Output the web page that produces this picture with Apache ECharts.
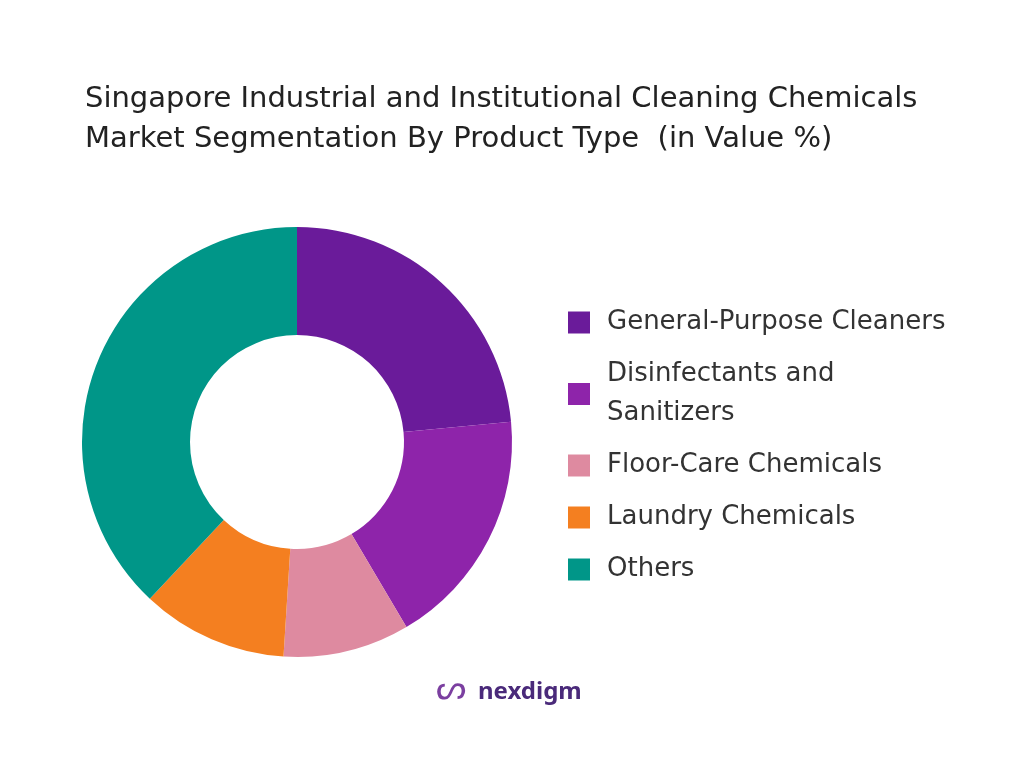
<!DOCTYPE html>
<html><head><meta charset="utf-8">
<script src="https://cdn.jsdelivr.net/npm/echarts@6/dist/echarts.min.js"></script>
<style>html,body{margin:0;background:#fff}#c{width:1024px;height:768px}</style>
</head><body><div id="c"></div>
<script>
const categories = ["General-Purpose Cleaners","Disinfectants and\nSanitizers","Floor-Care Chemicals","Laundry Chemicals","Others"];
const values = [23.5, 18, 9.5, 11, 38];
const colors = ["#6A1B9A","#8E24AA","#DE8AA0","#F47F20","#009688"];
const chart = echarts.init(document.getElementById('c'));
chart.setOption({
  animation:false,
  title:{text:"Singapore Industrial and Institutional Cleaning Chemicals\nMarket Segmentation By Product Type  (in Value %)",left:80,top:74,
    textStyle:{fontFamily:"DejaVu Sans",fontSize:29,fontWeight:'normal',color:'#222',lineHeight:40}},
  color:colors,
  legend:{orient:'vertical',left:563,top:298,itemWidth:22,itemHeight:22,itemGap:13,icon:'rect',
    textStyle:{fontFamily:"DejaVu Sans",fontSize:26,color:'#333',lineHeight:39,padding:[0,0,0,12]}},
  graphic:[{type:'text',left:478,top:680,style:{text:'nexdigm',font:'bold 24px "Noto Sans"',fill:'#4a2a7a'}},
    {type:'text',left:436,top:672,style:{text:'ᔕ',font:'34px "Noto Sans"',fill:'#7b3fa0'}}],
  series:[{type:'pie',center:[297,442],radius:[107,215],startAngle:90,clockwise:true,
    label:{show:false},labelLine:{show:false},
    data:categories.map((n,i)=>({name:n,value:values[i]}))}]
});
</script></body></html>
